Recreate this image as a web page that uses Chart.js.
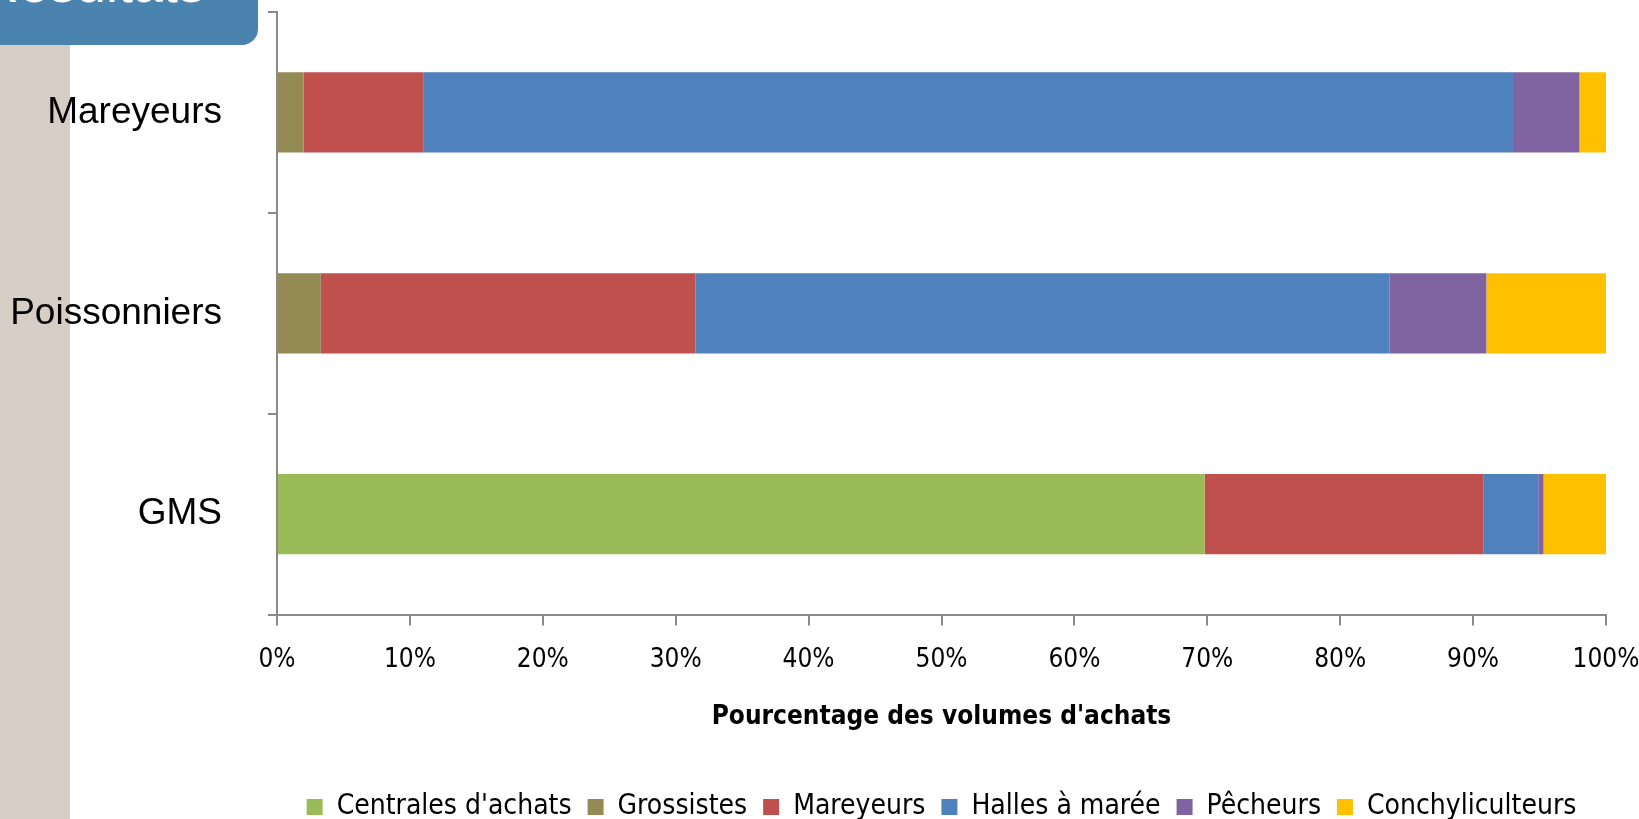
<!DOCTYPE html>
<html lang="fr">
<head>
  <meta charset="UTF-8" />
  <title>Pourcentage des volumes d'achats</title>
  <script src="https://cdn.jsdelivr.net/npm/chart.js"></script>
  <style>
    html, body {
      margin: 0;
      padding: 0;
      overflow: hidden;
      background: #ffffff;
    }
    #stripe {
      position: absolute;
      left: 0;
      top: 45px;
      width: 70px;
      height: 800px;
      background: #d6cdc5;
    }
    #tab {
      position: absolute;
      left: 0;
      top: 0;
      width: 258px;
      height: 45px;
      background: #4a83ae;
      border-bottom-right-radius: 16px;
      overflow: hidden;
    }
    #tab span {
      position: absolute;
      left: -20px;
      top: -44px;
      font-family: "Liberation Sans", Arial, sans-serif;
      font-size: 54px;
      line-height: 54px;
      color: #ffffff;
      white-space: nowrap;
    }
    #wrap {
      position: absolute;
      left: 0;
      top: 0;
    }
  </style>
</head>
<body>
  <div id="stripe"></div>
  <div id="tab"><span>Résultats</span></div>
  <div id="wrap"><canvas id="achatsChart" width="1639" height="831"></canvas></div>

  <script>
    const categories = ['Mareyeurs', 'Poissonniers', 'GMS'];
    const seriesNames = ["Centrales d'achats", 'Grossistes', 'Mareyeurs', 'Halles à marée', 'Pêcheurs', 'Conchyliculteurs'];
    const centrales = [0, 0, 69.8];
    const grossistes = [2, 3.3, 0];
    const mareyeurs = [9, 28.2, 21];
    const halles = [82, 52.2, 4.1];
    const pecheurs = [5, 7.3, 0.4];
    const conchyliculteurs = [2, 9, 4.7];
    const seriesColors = ['#9bbb59', '#948a54', '#c0504d', '#4f81bd', '#8064a2', '#ffc000'];
    const xTickLabels = ['0%', '10%', '20%', '30%', '40%', '50%', '60%', '70%', '80%', '90%', '100%'];

    const narrow = "'DejaVu Sans Condensed', 'Liberation Sans Narrow', sans-serif";
    const axisGrey = '#8a8a8a';

    const values = [centrales, grossistes, mareyeurs, halles, pecheurs, conchyliculteurs];
    const datasets = seriesNames.map((name, i) => ({
      label: name,
      data: values[i],
      backgroundColor: seriesColors[i],
      borderWidth: 0,
      barPercentage: 0.4,
      categoryPercentage: 1
    }));

    new Chart(document.getElementById('achatsChart'), {
      type: 'bar',
      data: { labels: categories, datasets: datasets },
      options: {
        indexAxis: 'y',
        responsive: false,
        animation: false,
        layout: { padding: { top: 12, left: 0, right: 0, bottom: 0 } },
        plugins: {
          tooltip: { enabled: false },
          legend: {
            position: 'bottom',
            fullSize: false,
            labels: {
              boxWidth: 16,
              boxHeight: 16,
              padding: 16,
              color: '#000000',
              font: { family: narrow, size: 28 }
            }
          }
        },
        scales: {
          x: {
            type: 'linear',
            stacked: true,
            min: 0,
            max: 100,
            // the last label is allowed to reach the page edge
            afterFit: (scale) => {
              scale.paddingRight = 33;
            },
            ticks: {
              stepSize: 10,
              padding: 19,
              color: '#000000',
              font: { family: narrow, size: 26 },
              callback: (v, i) => xTickLabels[i]
            },
            grid: {
              drawOnChartArea: false,
              drawTicks: true,
              tickLength: 11,
              color: axisGrey,
              lineWidth: 2
            },
            border: { color: axisGrey, width: 2 },
            title: {
              display: true,
              text: "Pourcentage des volumes d'achats",
              color: '#000000',
              font: { family: narrow, size: 26, weight: 'bold' },
              padding: { top: 7, bottom: 44 }
            }
          },
          y: {
            type: 'category',
            stacked: true,
            offset: true,
            // fixed axis width; label padding must not push the plot down
            afterFit: (scale) => {
              scale.width = 277;
              scale.paddingTop = 0;
              scale.paddingBottom = 0;
            },
            ticks: {
              padding: 46,
              color: '#000000',
              font: { family: "'Liberation Sans', Arial, sans-serif", size: 37 }
            },
            grid: {
              offset: true,
              drawOnChartArea: false,
              drawTicks: true,
              tickLength: 9,
              color: axisGrey,
              lineWidth: 2
            },
            border: { color: axisGrey, width: 2 }
          }
        }
      }
    });
  </script>
</body>
</html>
